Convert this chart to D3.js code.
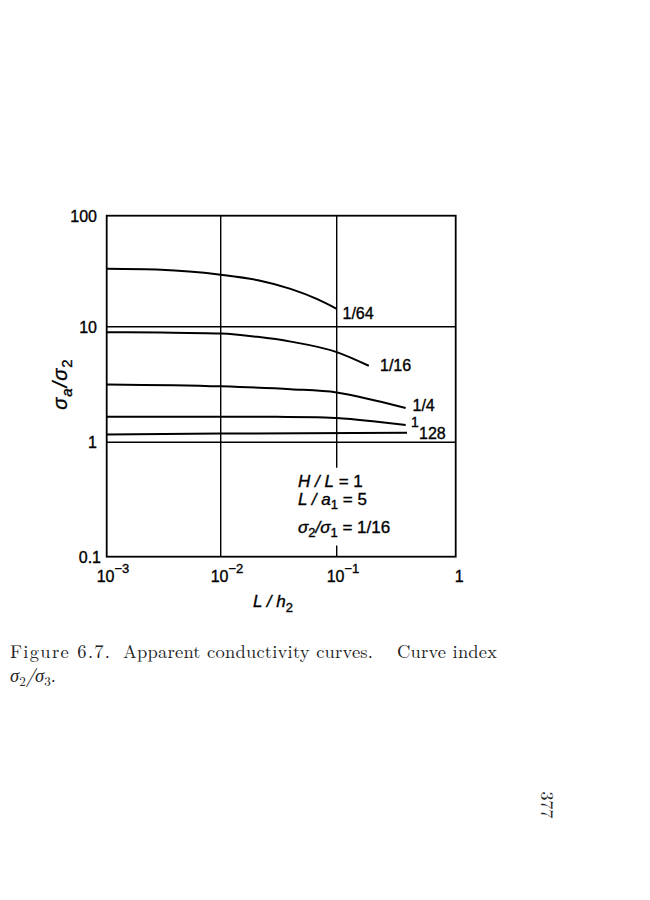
<!DOCTYPE html>
<html><head><meta charset="utf-8">
<script src="https://cdn.jsdelivr.net/npm/d3@7"></script>
<style>body{margin:0;background:#fff}</style>
</head><body>
<script>
// ---- data ----
const xTicks = [0.001, 0.01, 0.1, 1];
const xTickExp = ["\u22123", "\u22122", "\u22121", ""];
const yTicks = [0.1, 1, 10, 100];
const yTickLabels = ["0.1", "1", "10", "100"];

const c64_x = [0.001, 0.003, 0.01, 0.021, 0.04, 0.068, 0.1];
const c64_y = [33.2, 32.6, 29.4, 26.2, 21.9, 17.7, 14.5];
const c16_x = [0.001, 0.003, 0.01, 0.0208, 0.0402, 0.1, 0.186];
const c16_y = [8.97, 8.9, 8.73, 8.17, 7.43, 6.03, 4.59];
const c4_x = [0.001, 0.01, 0.0402, 0.1, 0.21, 0.38];
const c4_y = [3.17, 3.05, 2.88, 2.70, 2.30, 1.98];
const c1_x = [0.001, 0.03, 0.068, 0.1, 0.21, 0.38];
const c1_y = [1.66, 1.66, 1.65, 1.62, 1.51, 1.41];
const c128_x = [0.001, 0.01, 0.39];
const c128_y = [1.17, 1.19, 1.21];
const curveLabels = ["1/64", "1/16", "1/4", "1", "128"];

const W = 650, H = 900;
const svg = d3.select("body").append("svg").attr("width", W).attr("height", H);
const sans = "'Liberation Sans', Arial, Helvetica, sans-serif";
const serif = "'Latin Modern Roman','CMU Serif','Liberation Serif', serif";
const ink = "#000";
const bold = 0.35;

const x = d3.scaleLog().domain([0.001, 0.01, 0.1, 1]).range([106.7, 220.7, 336.7, 455.7]);
const y = d3.scaleLog().domain([0.1, 1, 10, 100]).range([556.7, 442.3, 326.7, 215.7]);

// gridlines
const g = svg.append("g").attr("stroke", ink).attr("stroke-width", 1.4);
g.append("line").attr("x1", x(0.01)).attr("x2", x(0.01)).attr("y1", y(100)).attr("y2", y(0.1));
g.append("line").attr("x1", x(0.1)).attr("x2", x(0.1)).attr("y1", y(100)).attr("y2", y(0.6));
g.append("line").attr("x1", x(0.1)).attr("x2", x(0.1)).attr("y1", y(0.125)).attr("y2", y(0.1));
[1, 10].forEach(v => g.append("line").attr("x1", x(0.001)).attr("x2", x(1)).attr("y1", y(v)).attr("y2", y(v)));

// frame
svg.append("rect").attr("x", x(0.001)).attr("y", y(100))
  .attr("width", x(1) - x(0.001)).attr("height", y(0.1) - y(100))
  .attr("fill", "none").attr("stroke", ink).attr("stroke-width", 1.8);

// curves
const line = d3.line().x(d => x(d[0])).y(d => y(d[1])).curve(d3.curveMonotoneX);
const curves = [[c64_x, c64_y], [c16_x, c16_y], [c4_x, c4_y], [c1_x, c1_y], [c128_x, c128_y]];
curves.forEach(([xs, ys]) => {
  svg.append("path").attr("d", line(xs.map((v, i) => [v, ys[i]])))
    .attr("fill", "none").attr("stroke", ink).attr("stroke-width", 2);
});

function txt(sel) { return sel.attr("fill", ink).attr("stroke", ink).attr("stroke-width", bold); }

// curve labels (placed near curve ends)
const labPos = [[342.5, 318.5, 16], [380, 371, 16], [412.5, 411, 16], [411, 426.5, 14], [419, 438.5, 16]];
curveLabels.forEach((t, i) => {
  txt(svg.append("text")).attr("x", labPos[i][0]).attr("y", labPos[i][1])
    .attr("font-family", sans).attr("font-size", labPos[i][2]).text(t);
});

// y tick labels
yTicks.forEach((v, i) => {
  txt(svg.append("text")).attr("x", v === 0.1 ? 101 : 97).attr("y", y(v) + 6)
    .attr("text-anchor", "end").attr("font-family", sans).attr("font-size", 16)
    .text(yTickLabels[i]);
});

// x tick labels
xTicks.forEach((v, i) => {
  const t = txt(svg.append("text")).attr("y", 582).attr("font-family", sans).attr("font-size", 16);
  if (xTickExp[i]) {
    t.attr("x", x(v) - 10);
    t.append("tspan").text("10");
    t.append("tspan").attr("dy", -9).attr("font-size", 13).text(xTickExp[i]);
  } else {
    t.attr("x", x(v) - 1).text("1");
  }
});

// x axis title
const xt = txt(svg.append("text")).attr("x", 253).attr("y", 607).attr("font-family", sans).attr("font-size", 17);
xt.append("tspan").attr("font-style", "italic").text("L / h");
xt.append("tspan").attr("dy", 5).attr("font-size", 13).text("2");

// y axis title
const yt = txt(svg.append("text")).attr("transform", "translate(67,384) rotate(-90)").attr("text-anchor", "middle")
  .attr("font-family", sans).attr("font-size", 20).attr("letter-spacing", 1);
yt.append("tspan").attr("font-style", "italic").text("\u03c3");
yt.append("tspan").attr("dy", 5).attr("font-size", 15).attr("font-style", "italic").text("a");
yt.append("tspan").attr("dy", -5).attr("font-style", "italic").text("/\u03c3");
yt.append("tspan").attr("dy", 5).attr("font-size", 15).text("2");

// annotation box text
const ann = txt(svg.append("g")).attr("font-family", sans).attr("font-size", 17);
let a1 = ann.append("text").attr("x", 298).attr("y", 487);
a1.append("tspan").attr("font-style", "italic").text("H / L");
a1.append("tspan").text(" = 1");
let a2 = ann.append("text").attr("x", 298).attr("y", 505);
a2.append("tspan").attr("font-style", "italic").text("L / a");
a2.append("tspan").attr("dy", 4).attr("font-size", 13).text("1");
a2.append("tspan").attr("dy", -4).text(" = 5");
let a3 = ann.append("text").attr("x", 298).attr("y", 533);
a3.append("tspan").attr("font-style", "italic").text("\u03c3");
a3.append("tspan").attr("dy", 4).attr("font-size", 13).text("2");
a3.append("tspan").attr("dy", -4).attr("font-style", "italic").text("/\u03c3");
a3.append("tspan").attr("dy", 4).attr("font-size", 13).text("1");
a3.append("tspan").attr("dy", -4).text(" = 1/16");

// caption
const cap = svg.append("g").attr("font-family", serif).attr("font-size", 18.5).attr("fill", "#222");
cap.append("text").attr("x", 10).attr("y", 658).attr("textLength", 100).attr("lengthAdjust", "spacing").text("Figure 6.7.");
cap.append("text").attr("x", 123).attr("y", 658).attr("textLength", 250).attr("lengthAdjust", "spacing").text("Apparent conductivity curves.");
cap.append("text").attr("x", 397).attr("y", 658).attr("textLength", 100).attr("lengthAdjust", "spacing").text("Curve index");
const cap2 = cap.append("text").attr("x", 10).attr("y", 682);
cap2.append("tspan").attr("font-style", "italic").text("\u03c3");
cap2.append("tspan").attr("dy", 4).attr("font-size", 13).text("2");
cap2.append("tspan").attr("dy", -4).attr("font-style", "italic").text("/\u03c3");
cap2.append("tspan").attr("dy", 4).attr("font-size", 13).text("3");
cap2.append("tspan").attr("dy", -4).text(".");

// page number
svg.append("text").attr("transform", "translate(541,805) rotate(90)").attr("text-anchor", "middle")
  .attr("font-family", serif).attr("font-size", 18).attr("fill", "#222").text("377");
</script>
</body></html>
